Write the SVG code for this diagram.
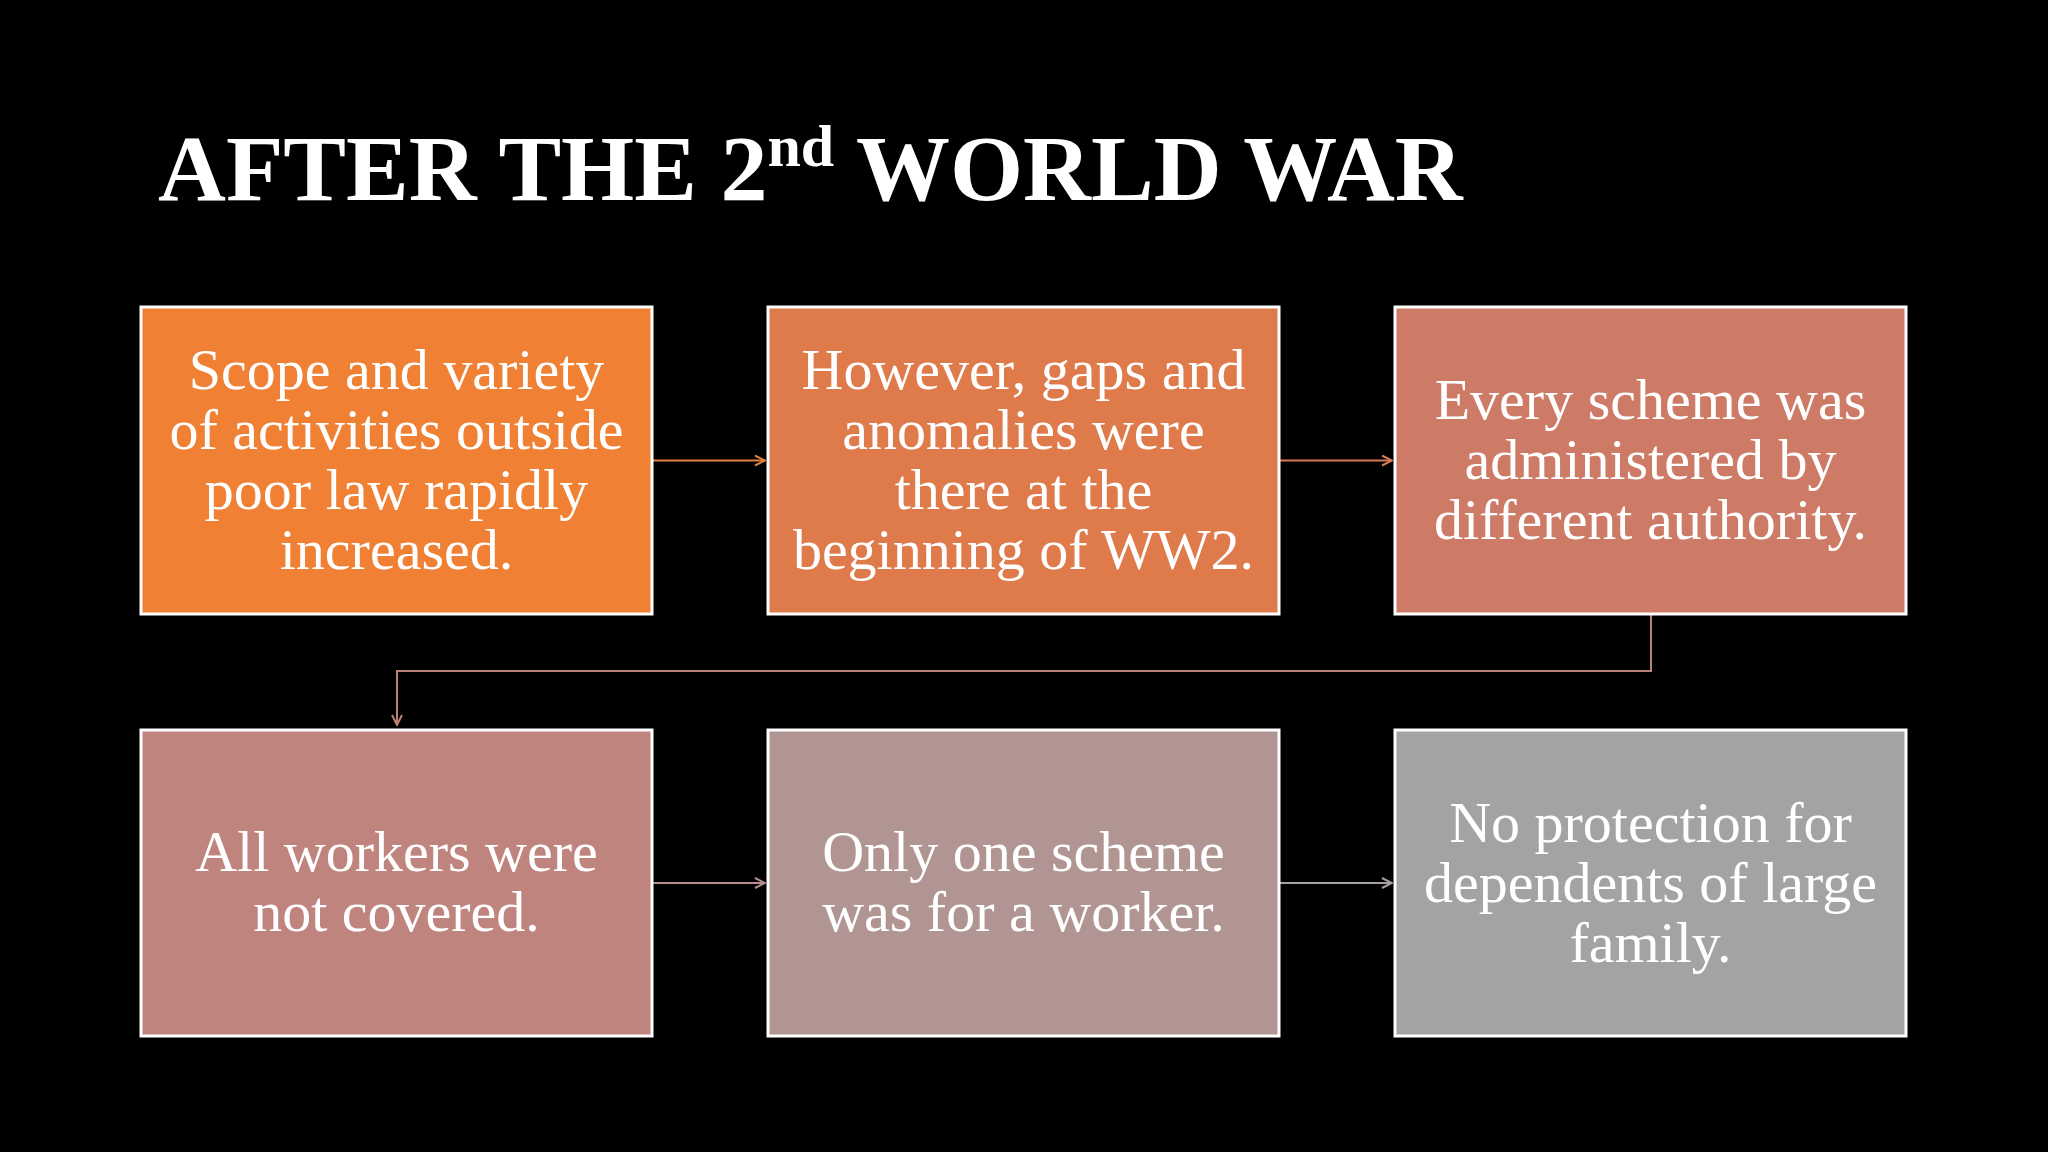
<svg xmlns="http://www.w3.org/2000/svg" width="2048" height="1152" viewBox="0 0 2048 1152">
<defs>
<style>
.box{stroke:#FFFFFF;stroke-width:3}
.t{font-family:"Liberation Serif","Times New Roman",serif;font-size:58px;fill:#FFFFFF;text-anchor:middle}
.title{font-family:"Liberation Serif","Times New Roman",serif;font-size:94px;font-weight:bold;fill:#FFFFFF}
.c{fill:none;stroke-width:2}
</style>
<marker id="ah1" viewBox="0 0 12 12" refX="11" refY="6" markerWidth="12" markerHeight="12" markerUnits="userSpaceOnUse" orient="auto"><path d="M1,1 L11,6 L1,11" fill="none" stroke="#E8803F" stroke-width="2"/></marker>
<marker id="ah2" viewBox="0 0 12 12" refX="11" refY="6" markerWidth="12" markerHeight="12" markerUnits="userSpaceOnUse" orient="auto"><path d="M1,1 L11,6 L1,11" fill="none" stroke="#D97B58" stroke-width="2"/></marker>
<marker id="ah3" viewBox="0 0 12 12" refX="11" refY="6" markerWidth="12" markerHeight="12" markerUnits="userSpaceOnUse" orient="auto"><path d="M1,1 L11,6 L1,11" fill="none" stroke="#BA8274" stroke-width="2"/></marker>
<marker id="ah4" viewBox="0 0 12 12" refX="11" refY="6" markerWidth="12" markerHeight="12" markerUnits="userSpaceOnUse" orient="auto"><path d="M1,1 L11,6 L1,11" fill="none" stroke="#B8908F" stroke-width="2"/></marker>
<marker id="ah5" viewBox="0 0 12 12" refX="11" refY="6" markerWidth="12" markerHeight="12" markerUnits="userSpaceOnUse" orient="auto"><path d="M1,1 L11,6 L1,11" fill="none" stroke="#A9A0A2" stroke-width="2"/></marker>
</defs>
<rect x="0" y="0" width="2048" height="1152" fill="#000000"/>
<text class="title" x="158" y="200">AFTER THE 2<tspan font-size="60" dy="-34">nd</tspan><tspan dy="34"> WORLD WAR</tspan></text>

<g id="connectors">
<path class="c" stroke="#E8803F" d="M652,460.5 L765,460.5" marker-end="url(#ah1)"/>
<path class="c" stroke="#D97B58" d="M1279,460.5 L1392,460.5" marker-end="url(#ah2)"/>
<path class="c" stroke="#BA8274" d="M1651,614 L1651,671 L397,671 L397,725" marker-end="url(#ah3)"/>
<path class="c" stroke="#B8908F" d="M652,883 L765,883" marker-end="url(#ah4)"/>
<path class="c" stroke="#A9A0A2" d="M1279,883 L1392,883" marker-end="url(#ah5)"/>
</g>

<g id="node1">
<rect class="box" x="141" y="307" width="511" height="307" fill="#F08033"/>
<text class="t" x="396.5" y="389">Scope and variety</text>
<text class="t" x="396.5" y="449">of activities outside</text>
<text class="t" x="396.5" y="509">poor law rapidly</text>
<text class="t" x="396.5" y="569">increased.</text>
</g>
<g id="node2">
<rect class="box" x="768" y="307" width="511" height="307" fill="#DF7A4B"/>
<text class="t" x="1023.5" y="389">However, gaps and</text>
<text class="t" x="1023.5" y="449">anomalies were</text>
<text class="t" x="1023.5" y="509">there at the</text>
<text class="t" x="1023.5" y="569">beginning of WW2.</text>
</g>
<g id="node3">
<rect class="box" x="1395" y="307" width="511" height="307" fill="#CD7B66"/>
<text class="t" x="1650.5" y="419">Every scheme was</text>
<text class="t" x="1650.5" y="479">administered by</text>
<text class="t" x="1650.5" y="539">different authority.</text>
</g>
<g id="node4">
<rect class="box" x="141" y="730" width="511" height="306" fill="#BF847E"/>
<text class="t" x="396.5" y="871">All workers were</text>
<text class="t" x="396.5" y="931">not covered.</text>
</g>
<g id="node5">
<rect class="box" x="768" y="730" width="511" height="306" fill="#B09593"/>
<text class="t" x="1023.5" y="871">Only one scheme</text>
<text class="t" x="1023.5" y="931">was for a worker.</text>
</g>
<g id="node6">
<rect class="box" x="1395" y="730" width="511" height="306" fill="#A4A2A5"/>
<text class="t" x="1650.5" y="842">No protection for</text>
<text class="t" x="1650.5" y="902">dependents of large</text>
<text class="t" x="1650.5" y="962">family.</text>
</g>
</svg>
